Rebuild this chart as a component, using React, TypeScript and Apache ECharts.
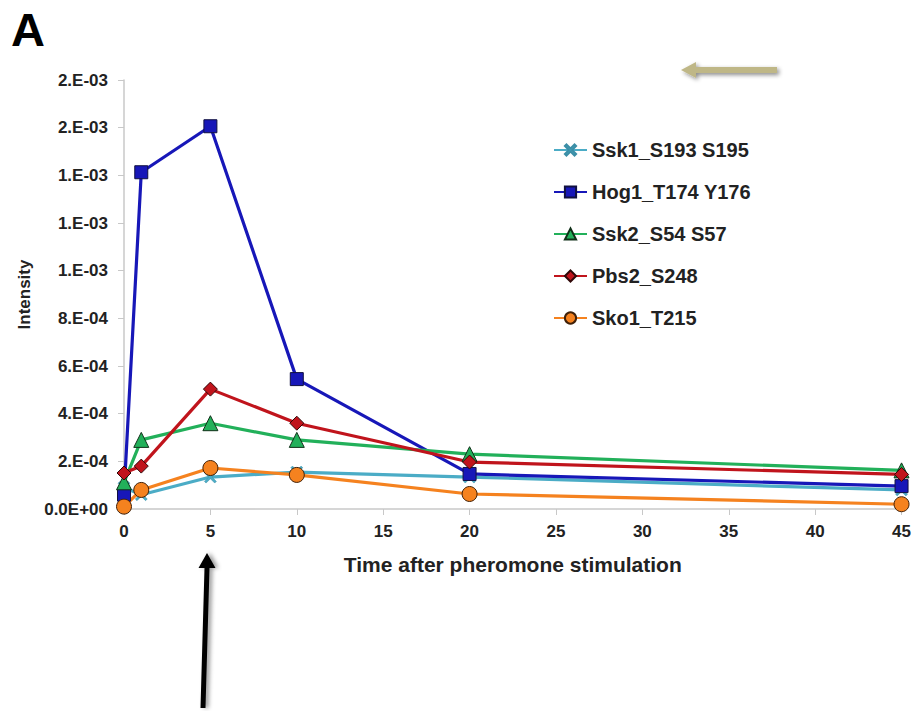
import React, { useEffect, useRef } from "react";
import * as echarts from "echarts";

const times = [0, 1, 5, 10, 20, 45];
const seriesNames = ["Ssk1_S193 S195", "Hog1_T174 Y176", "Ssk2_S54 S57", "Pbs2_S248", "Sko1_T215"];
const ssk1 = [0.9e-4, 0.6e-4, 1.34e-4, 1.55e-4, 1.34e-4, 0.8e-4];
const hog1 = [0.6e-4, 1.413e-3, 1.606e-3, 5.45e-4, 1.47e-4, 0.96e-4];
const ssk2 = [1.12e-4, 2.9e-4, 3.6e-4, 2.9e-4, 2.3e-4, 1.62e-4];
const pbs2 = [1.51e-4, 1.8e-4, 5.03e-4, 3.6e-4, 1.97e-4, 1.45e-4];
const sko1 = [0.1e-4, 0.8e-4, 1.72e-4, 1.43e-4, 0.63e-4, 0.2e-4];
const yTickLabels = ["0.0E+00", "2.E-04", "4.E-04", "6.E-04", "8.E-04", "1.E-03", "1.E-03", "1.E-03", "2.E-03", "2.E-03"];
const xTicks = [0, 5, 10, 15, 20, 25, 30, 35, 40, 45];

const FONT = "'Liberation Sans', Arial, sans-serif";
const XSYM = "path://M0,1.4L1.4,0L5,3.6L8.6,0L10,1.4L6.4,5L10,8.6L8.6,10L5,6.4L1.4,10L0,8.6L3.6,5Z";

export default function App() {
  const ref = useRef<HTMLDivElement>(null);
  useEffect(() => {
    if (!ref.current) return;
    const chart = echarts.init(ref.current, null, { renderer: "svg" });
    const pair = (vals: number[]) => times.map((t, i) => [t, vals[i]]);
    const mk = (name: string, vals: number[], color: string, symbol: string, size: number, outline: string) => ({
      name,
      type: "line",
      data: pair(vals),
      symbol,
      symbolSize: size,
      lineStyle: { color, width: 3.2 },
      itemStyle: { color, borderColor: outline, borderWidth: 1 },
      z: 2,
    });
    chart.setOption({
      animation: false,
      backgroundColor: "#ffffff",
      grid: { left: 124, right: 12, top: 80, bottom: 202 },
      legend: {
        orient: "vertical",
        left: 553,
        top: 140,
        padding: 0,
        itemWidth: 33,
        itemHeight: 14,
        itemGap: 22,
        textStyle: { fontFamily: FONT, fontWeight: "bold", fontSize: 20, color: "#222" },
        data: seriesNames,
      },
      xAxis: {
        type: "value",
        min: 0,
        max: 45,
        interval: 5,
        name: "Time after pheromone stimulation",
        nameLocation: "middle",
        nameGap: 45,
        nameTextStyle: { fontFamily: FONT, fontWeight: "bold", fontSize: 21, color: "#222" },
        axisLine: { lineStyle: { color: "#C8C8C8", width: 1.5 } },
        axisTick: { show: true, length: 6, lineStyle: { color: "#C8C8C8" } },
        splitLine: { show: false },
        axisLabel: {
          fontFamily: FONT, fontWeight: "bold", fontSize: 17, color: "#222", margin: 14,
          formatter: (v: number) => (xTicks.indexOf(v) >= 0 ? String(v) : ""),
        },
      },
      yAxis: {
        type: "value",
        min: 0,
        max: 1.8e-3,
        interval: 2e-4,
        name: "Intensity",
        nameLocation: "middle",
        nameGap: 82,
        nameTextStyle: { fontFamily: FONT, fontWeight: "bold", fontSize: 17, color: "#222" },
        axisLine: { show: true, lineStyle: { color: "#C8C8C8", width: 1.5 } },
        axisTick: { show: true, length: 6, lineStyle: { color: "#C8C8C8" } },
        splitLine: { show: false },
        axisLabel: {
          fontFamily: FONT, fontWeight: "bold", fontSize: 17, color: "#222", margin: 16,
          formatter: (v: number) => yTickLabels[Math.round(v / 2e-4)] ?? "",
        },
      },
      series: [
        { ...mk(seriesNames[0], ssk1, "#4BACC6", XSYM, 12, "#4BACC6"), itemStyle: { color: "#4BACC6", borderColor: "#3b8ea6", borderWidth: 0.5 } },
        mk(seriesNames[1], hog1, "#1717B8", "rect", 13, "#101040"),
        mk(seriesNames[2], ssk2, "#22B05A", "triangle", 15, "#103018"),
        mk(seriesNames[3], pbs2, "#C0141C", "diamond", 14, "#300808"),
        mk(seriesNames[4], sko1, "#F5821F", "circle", 15, "#402008"),
      ],
      graphic: [
        {
          type: "text",
          left: 11,
          top: 6,
          style: { text: "A", fontFamily: FONT, fontWeight: "bold", fontSize: 47, fill: "#000" },
        },
        {
          type: "polygon",
          shape: { points: [[681, 70], [696, 62], [696, 67], [777, 67], [777, 73], [696, 73], [696, 78]] },
          style: { fill: "#BFB787", shadowBlur: 4, shadowColor: "rgba(0,0,0,0.45)", shadowOffsetX: 2, shadowOffsetY: 2 },
        },
        {
          type: "polygon",
          shape: { points: [[207, 553], [215.5, 568], [209.5, 568], [205.5, 708], [200.5, 708], [204.5, 568], [198.5, 568]] },
          style: { fill: "#000", shadowBlur: 4, shadowColor: "rgba(0,0,0,0.4)", shadowOffsetX: 3, shadowOffsetY: 0 },
        },
      ],
    });
    return () => chart.dispose();
  }, []);
  return <div ref={ref} style={{ position: "fixed", left: 0, top: 0, width: 914, height: 711 }} />;
}
